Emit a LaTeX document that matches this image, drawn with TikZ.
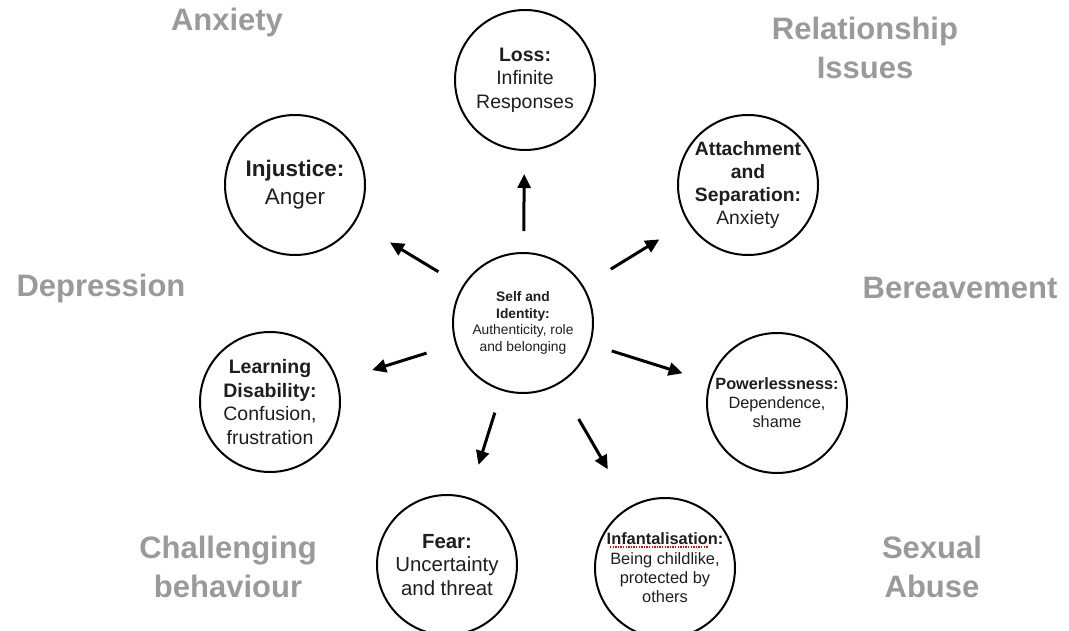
\documentclass[tikz,border=0pt]{standalone}
\usepackage{fontspec}
\setmainfont{Liberation Sans}
\usetikzlibrary{arrows.meta}
\definecolor{labelgray}{HTML}{9A9A9A}
\definecolor{bodytext}{HTML}{1E1E1E}
\begin{document}
\begin{tikzpicture}[x=1pt,y=-1pt,
  bubble/.style={circle, draw=black, line width=2pt, minimum size=140pt, inner sep=0pt, align=center, text=bodytext},
  link/.style={line width=3pt, -{Triangle[length=14pt,width=13pt]}},
  theme/.style={text=labelgray, font=\bfseries\fontsize{31}{39.5}\selectfont, align=center, inner sep=0pt}]
\useasboundingbox (0,0) rectangle (1069,631);

% theme labels
\node[theme] (tanx) at (227,22) {Anxiety};
\node[theme] (trel) at (865,48) {Relationship\\Issues};
\node[theme] (tdep) at (101,288) {Depression};
\node[theme] (tber) at (960,288) {Bereavement};
\node[theme] (tcha) at (228,567) {Challenging\\behaviour};
\node[theme] (tsex) at (932,567) {Sexual\\Abuse};

% circles
\node[bubble, font=\fontsize{13.8}{16.4}\selectfont] (self) at (523,323)
  {\textbf{Self and}\\\textbf{Identity:}\\Authenticity, role\\and belonging};
\node[bubble, font=\fontsize{19.5}{23.5}\selectfont] (loss) at (525,80)
  {\textbf{Loss:}\\Infinite\\Responses};
\node[bubble, font=\fontsize{22.5}{28}\selectfont] (inj) at (295,185)
  {\textbf{Injustice:}\\Anger};
\node[bubble, font=\fontsize{19.3}{22.8}\selectfont] (att) at (748,185)
  {\textbf{Attachment}\\\textbf{and}\\\textbf{Separation:}\\Anxiety};
\node[bubble, font=\fontsize{19.5}{23.7}\selectfont] (learn) at (270,402)
  {\textbf{Learning}\\\textbf{Disability:}\\Confusion,\\frustration};
\node[bubble, font=\fontsize{16.3}{19}\selectfont] (pow) at (777,403)
  {\textbf{Powerlessness:}\\Dependence,\\shame};
\node[bubble, font=\fontsize{20.4}{23.5}\selectfont] (fear) at (447,565)
  {\textbf{Fear:}\\Uncertainty\\and threat};
\node[bubble, font=\fontsize{16.4}{19.3}\selectfont] (inf) at (665,568)
  {\textbf{Infantalisation:}\\Being childlike,\\protected by\\others};

% spell-check underline
\draw[red, line width=1.3pt, dash pattern=on 1.3pt off 1.3pt] (610,547) -- (708,547);

% arrows
\draw[link, shorten <=21pt, shorten >=23pt] (self) -- (loss);
\draw[link, shorten <=28pt, shorten >=40pt] (self) -- (inj);
\draw[link, shorten <=32pt, shorten >=33pt] (self) -- (att);
\draw[link, shorten <=30pt, shorten >=36pt] (self) -- (learn);
\draw[link, shorten <=22pt, shorten >=28pt] (self) -- (pow);
\draw[link, shorten <=23pt, shorten >=34pt] (self) -- (fear);
\draw[link, shorten <=40pt, shorten >=43pt] (self) -- (inf);
\end{tikzpicture}
\end{document}
